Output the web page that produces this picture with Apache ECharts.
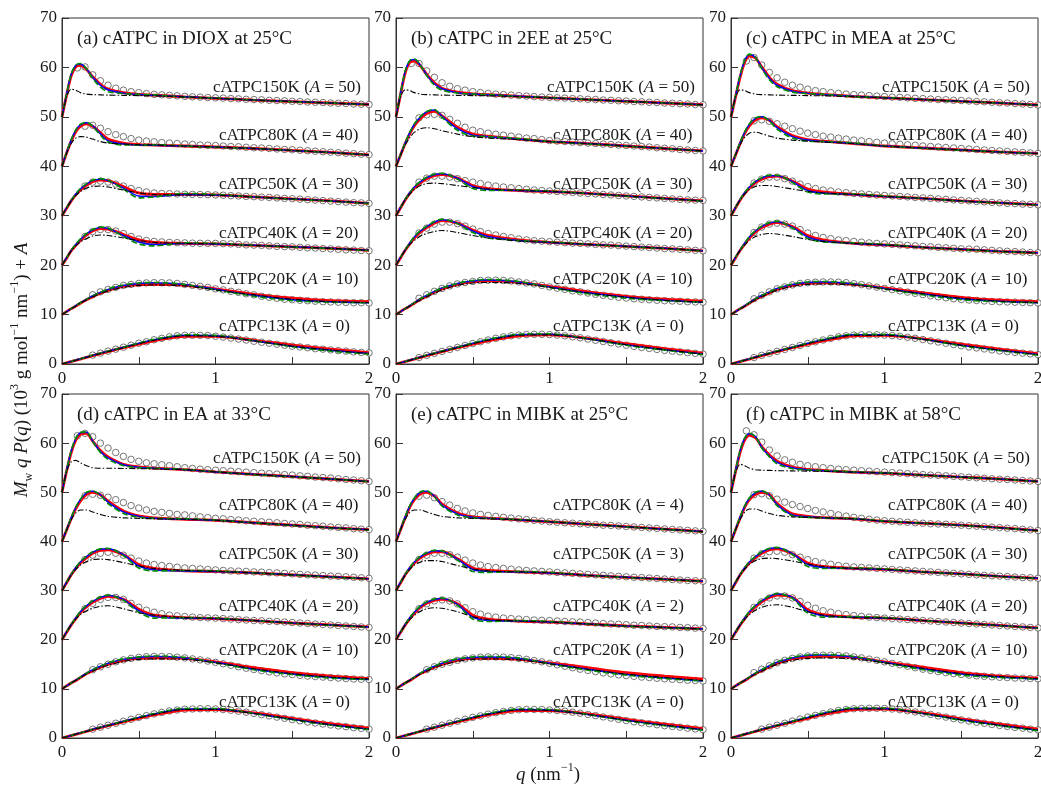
<!DOCTYPE html>
<html>
<head>
<meta charset="utf-8">
<title>cATPC Mw q P(q)</title>
<script src="https://cdn.jsdelivr.net/npm/echarts/dist/echarts.min.js"></script>
<style>
  html, body { margin: 0; padding: 0; background: #fff; }
  #chart { width: 1041px; height: 786px; }
</style>
</head>
<body>
<div id="chart"></div>
<script>
const FONT = '"Liberation Serif", "Times New Roman", serif';
const INK = '#1a1a1a';

// q grids (nm^-1): fitted curves and measured points
const qFit = [0, 0.03, 0.06, 0.09, 0.12, 0.16, 0.2, 0.25, 0.3, 0.4, 0.5, 0.6, 0.8, 1.0, 1.25, 1.5, 1.75, 2.0];
const qData = [0.10, 0.15, 0.20, 0.25, 0.30, 0.35, 0.40, 0.45, 0.50, 0.55, 0.60, 0.65, 0.70, 0.75, 0.80, 0.85, 0.90, 0.95, 1.00,
  1.05, 1.10, 1.15, 1.20, 1.25, 1.30, 1.35, 1.40, 1.45, 1.50, 1.55, 1.60, 1.65, 1.70, 1.75, 1.80, 1.85, 1.90, 1.95, 2.00];

const panelTitles = ['(a) cATPC in DIOX at 25°C', '(b) cATPC in 2EE at 25°C', '(c) cATPC in MEA at 25°C',
  '(d) cATPC in EA at 33°C', '(e) cATPC in MIBK at 25°C', '(f) cATPC in MIBK at 58°C'];
const samples = ['cATPC150K', 'cATPC80K', 'cATPC50K', 'cATPC40K', 'cATPC20K', 'cATPC13K'];
const shifts = [50, 40, 30, 20, 10, 0];
const aText = ['50', '40', '30', '20', '10', '0'];
const aTextE = ['', '4', '3', '2', '1', '0'];

// ---- (a) DIOX 25°C ----
const aData150 = [9.9, 10.1, 8.5, 7.3, 6.4, 5.8, 5.4, 5.1, 4.9, 4.7, 4.55, 4.45, 4.35, 4.25, 4.15, 4.05, 4.0, 3.9, 3.85, 3.8, 3.7, 3.65, 3.55, 3.5, 3.45, 3.35, 3.3, 3.25, 3.15, 3.1, 3.0, 2.95, 2.9, 2.8, 2.75, 2.7, 2.6, 2.55, 2.5];
const aRed150 = [0, 4.4, 8.3, 10.1, 10.4, 9.6, 8.1, 6.6, 5.6, 4.9, 4.55, 4.4, 4.05, 3.75, 3.4, 3.1, 2.8, 2.5];
const aBlue150 = [0, 4.6, 8.6, 10.4, 10.7, 9.7, 8.0, 6.4, 5.5, 4.8, 4.5, 4.35, 4.05, 3.75, 3.4, 3.1, 2.8, 2.5];
const aGreen150 = [0, 4.6, 8.7, 10.5, 10.8, 9.7, 7.8, 6.0, 5.1, 4.7, 4.55, 4.45, 4.0, 3.8, 3.4, 3.05, 2.8, 2.45];
const aBlack150 = [0, 4.0, 5.6, 5.4, 4.9, 4.6, 4.5, 4.45, 4.4, 4.35, 4.3, 4.25, 4.05, 3.75, 3.4, 3.1, 2.8, 2.5];
const aData80 = [null, 8.1, 8.3, 7.7, 7.0, 6.4, 6.0, 5.6, 5.3, 5.1, 4.95, 4.8, 4.7, 4.6, 4.5, 4.4, 4.3, 4.25, 4.2, 4.1, 4.0, 3.95, 3.85, 3.75, 3.7, 3.6, 3.5, 3.4, 3.35, 3.25, 3.15, 3.05, 2.95, 2.85, 2.75, 2.65, 2.55, 2.45, 2.35];
const aRed80 = [0, 2.7, 5.1, 7.0, 8.1, 8.6, 8.1, 6.8, 5.5, 4.7, 4.4, 4.3, 4.1, 3.9, 3.6, 3.2, 2.8, 2.3];
const aBlue80 = [0, 2.8, 5.3, 7.3, 8.4, 8.8, 8.2, 6.6, 5.2, 4.5, 4.3, 4.25, 4.1, 3.9, 3.6, 3.2, 2.8, 2.3];
const aGreen80 = [0, 2.8, 5.4, 7.4, 8.5, 8.9, 8.1, 6.3, 4.9, 4.3, 4.3, 4.35, 4.1, 3.85, 3.6, 3.2, 2.75, 2.3];
const aBlack80 = [0, 2.6, 4.6, 5.7, 6.0, 5.9, 5.5, 5.0, 4.7, 4.5, 4.35, 4.3, 4.1, 3.9, 3.6, 3.2, 2.8, 2.3];
const aData50 = [null, 6.0, 6.8, 7.0, 6.8, 6.4, 6.0, 5.5, 5.1, 4.8, 4.6, 4.5, 4.45, 4.4, 4.35, 4.32, 4.3, 4.25, 4.2, 4.15, 4.05, 4.0, 3.9, 3.85, 3.75, 3.7, 3.6, 3.5, 3.45, 3.35, 3.25, 3.15, 3.05, 2.95, 2.85, 2.75, 2.65, 2.6, 2.5];
const aRed50 = [0, 1.5, 3.0, 4.2, 5.2, 6.2, 6.9, 7.2, 7.1, 5.9, 4.6, 4.3, 4.3, 4.2, 3.8, 3.4, 3.0, 2.5];
const aBlue50 = [0, 1.6, 3.1, 4.4, 5.4, 6.4, 7.1, 7.4, 7.1, 5.6, 4.0, 3.9, 4.3, 4.2, 3.8, 3.4, 3.0, 2.5];
const aGreen50 = [0, 1.6, 3.1, 4.4, 5.5, 6.5, 7.2, 7.5, 7.2, 5.4, 3.6, 3.8, 4.5, 4.3, 3.8, 3.35, 2.95, 2.45];
const aBlack50 = [0, 1.6, 3.0, 4.1, 4.9, 5.6, 5.9, 6.0, 5.8, 5.2, 4.6, 4.3, 4.2, 4.15, 3.8, 3.4, 3.0, 2.5];
const aData40 = [null, 5.8, 6.8, 7.2, 7.2, 6.9, 6.4, 5.8, 5.3, 5.0, 4.8, 4.7, 4.6, 4.55, 4.5, 4.45, 4.42, 4.4, 4.4, 4.35, 4.3, 4.2, 4.1, 4.05, 4.0, 3.9, 3.8, 3.75, 3.7, 3.6, 3.5, 3.45, 3.35, 3.3, 3.2, 3.1, 3.05, 2.95, 2.9];
const aRed40 = [0, 1.4, 2.9, 4.0, 5.0, 6.1, 6.9, 7.4, 7.3, 6.2, 5.1, 4.6, 4.4, 4.3, 4.0, 3.7, 3.4, 3.0];
const aBlue40 = [0, 1.5, 3.0, 4.2, 5.2, 6.3, 7.1, 7.6, 7.4, 6.0, 4.7, 4.2, 4.4, 4.3, 4.0, 3.7, 3.4, 3.0];
const aGreen40 = [0, 1.5, 3.0, 4.3, 5.3, 6.4, 7.2, 7.7, 7.5, 5.8, 4.3, 3.9, 4.5, 4.4, 4.0, 3.65, 3.35, 2.95];
const aBlack40 = [0, 1.5, 2.9, 3.9, 4.7, 5.4, 5.9, 6.1, 6.0, 5.5, 5.0, 4.6, 4.4, 4.3, 4.0, 3.7, 3.4, 3.0];
const aData20 = [null, null, 4.0, 4.6, 5.1, 5.5, 5.9, 6.1, 6.3, 6.4, 6.45, 6.45, 6.4, 6.3, 6.1, 5.9, 5.7, 5.5, 5.2, 5.0, 4.7, 4.5, 4.2, 4.0, 3.7, 3.5, 3.3, 3.1, 3.0, 2.9, 2.8, 2.7, 2.6, 2.55, 2.5, 2.45, 2.4, 2.4, 2.35];
const aRed20 = [0, 0.6, 1.2, 1.7, 2.3, 3.0, 3.6, 4.3, 4.9, 5.7, 6.0, 6.1, 5.9, 5.2, 4.1, 3.3, 2.8, 2.6];
const aBlue20 = [0, 0.6, 1.2, 1.8, 2.4, 3.1, 3.8, 4.5, 5.1, 5.9, 6.3, 6.45, 6.1, 5.1, 3.9, 3.0, 2.6, 2.4];
const aGreen20 = [0, 0.6, 1.2, 1.8, 2.4, 3.1, 3.8, 4.5, 5.2, 6.0, 6.4, 6.5, 6.1, 5.0, 3.7, 2.8, 2.5, 2.4];
const aBlack20 = [0, 0.6, 1.2, 1.7, 2.3, 3.0, 3.6, 4.2, 4.8, 5.5, 5.9, 6.0, 5.8, 5.0, 4.0, 3.1, 2.6, 2.4];
const aData13 = [null, null, 1.8, 2.2, 2.6, 3.0, 3.4, 3.8, 4.2, 4.5, 4.9, 5.2, 5.5, 5.7, 5.8, 5.8, 5.8, 5.75, 5.6, 5.45, 5.25, 5.05, 4.85, 4.6, 4.4, 4.2, 4.0, 3.8, 3.6, 3.45, 3.3, 3.1, 3.0, 2.85, 2.7, 2.6, 2.45, 2.35, 2.25];
const aRed13 = [0, 0.25, 0.5, 0.75, 1.0, 1.35, 1.7, 2.1, 2.5, 3.3, 4.0, 4.7, 5.6, 5.6, 4.8, 3.8, 3.0, 2.3];
const aBlue13 = [0, 0.25, 0.5, 0.8, 1.05, 1.4, 1.75, 2.2, 2.6, 3.4, 4.2, 4.9, 5.8, 5.7, 4.7, 3.6, 2.8, 2.1];
const aGreen13 = [0, 0.25, 0.5, 0.8, 1.05, 1.4, 1.8, 2.2, 2.6, 3.4, 4.2, 5.0, 5.9, 5.8, 4.7, 3.5, 2.6, 2.0];
const aBlack13 = [0, 0.25, 0.5, 0.75, 1.0, 1.35, 1.7, 2.1, 2.5, 3.3, 4.1, 4.8, 5.7, 5.6, 4.7, 3.6, 2.8, 2.1];

// ---- (b) 2EE 25°C ----
const bData150 = [10.8, 10.8, 9.3, 8.0, 6.9, 6.2, 5.7, 5.4, 5.1, 4.9, 4.75, 4.6, 4.5, 4.4, 4.3, 4.2, 4.1, 4.0, 3.95, 3.85, 3.8, 3.7, 3.65, 3.55, 3.5, 3.4, 3.35, 3.25, 3.2, 3.1, 3.05, 2.95, 2.9, 2.8, 2.75, 2.65, 2.6, 2.5, 2.45];
const bRed150 = [0, 4.6, 8.9, 11.0, 11.3, 10.3, 8.6, 6.9, 5.8, 5.0, 4.65, 4.5, 4.15, 3.85, 3.5, 3.15, 2.8, 2.45];
const bBlue150 = [0, 4.8, 9.2, 11.3, 11.6, 10.4, 8.5, 6.7, 5.7, 4.9, 4.6, 4.45, 4.15, 3.85, 3.5, 3.15, 2.8, 2.45];
const bGreen150 = [0, 4.8, 9.3, 11.4, 11.7, 10.4, 8.3, 6.4, 5.4, 4.8, 4.6, 4.5, 4.1, 3.9, 3.5, 3.1, 2.8, 2.4];
const bBlack150 = [0, 4.0, 5.5, 5.3, 4.9, 4.6, 4.5, 4.45, 4.4, 4.35, 4.3, 4.25, 4.1, 3.85, 3.5, 3.15, 2.8, 2.45];
const bData80 = [null, 9.8, 10.4, 10.5, 10.3, 9.5, 8.7, 7.9, 7.3, 7.0, 6.7, 6.5, 6.3, 6.1, 5.9, 5.7, 5.6, 5.4, 5.2, 5.1, 5.0, 4.9, 4.8, 4.7, 4.6, 4.5, 4.4, 4.3, 4.2, 4.1, 4.0, 3.9, 3.75, 3.65, 3.55, 3.4, 3.3, 3.2, 3.1];
const bRed80 = [0, 2.3, 4.6, 6.6, 8.2, 9.7, 10.7, 11.1, 10.2, 7.9, 6.5, 6.1, 5.5, 5.0, 4.6, 4.1, 3.6, 3.1];
const bBlue80 = [0, 2.4, 4.7, 6.8, 8.5, 10.0, 11.0, 11.4, 10.1, 7.6, 6.3, 6.0, 5.5, 5.0, 4.6, 4.1, 3.6, 3.1];
const bGreen80 = [0, 2.4, 4.8, 6.9, 8.6, 10.1, 11.1, 11.5, 9.9, 7.3, 6.1, 6.0, 5.6, 5.0, 4.5, 4.05, 3.6, 3.05];
const bBlack80 = [0, 2.3, 4.3, 5.8, 6.9, 7.6, 7.8, 7.6, 7.2, 6.5, 6.0, 5.7, 5.4, 5.0, 4.6, 4.1, 3.6, 3.1];
const bData50 = [null, 6.8, 7.6, 8.0, 8.0, 7.8, 7.5, 7.1, 6.8, 6.5, 6.2, 6.0, 5.8, 5.65, 5.5, 5.35, 5.2, 5.1, 5.0, 4.9, 4.8, 4.7, 4.6, 4.5, 4.4, 4.3, 4.2, 4.1, 4.0, 3.9, 3.8, 3.7, 3.6, 3.5, 3.4, 3.3, 3.2, 3.15, 3.1];
const bRed50 = [0, 1.6, 3.2, 4.5, 5.6, 6.7, 7.5, 8.1, 8.3, 7.6, 6.1, 5.5, 5.1, 4.9, 4.5, 4.0, 3.5, 3.0];
const bBlue50 = [0, 1.7, 3.3, 4.7, 5.8, 6.9, 7.7, 8.3, 8.5, 7.6, 5.9, 5.3, 5.1, 4.9, 4.5, 4.0, 3.5, 3.0];
const bGreen50 = [0, 1.7, 3.3, 4.7, 5.9, 7.0, 7.8, 8.4, 8.6, 7.4, 5.5, 5.1, 5.2, 5.0, 4.5, 3.95, 3.45, 2.95];
const bBlack50 = [0, 1.7, 3.2, 4.4, 5.3, 6.1, 6.5, 6.6, 6.5, 6.1, 5.7, 5.4, 5.1, 4.9, 4.5, 4.0, 3.5, 3.0];
const bData40 = [null, 6.5, 7.5, 8.3, 8.7, 8.7, 8.4, 7.9, 7.3, 6.8, 6.4, 6.1, 5.8, 5.55, 5.3, 5.1, 4.95, 4.85, 4.75, 4.65, 4.55, 4.45, 4.4, 4.3, 4.2, 4.1, 4.05, 3.95, 3.85, 3.75, 3.65, 3.55, 3.45, 3.35, 3.3, 3.2, 3.1, 3.0, 2.9];
const bRed40 = [0, 1.5, 3.0, 4.3, 5.5, 6.7, 7.6, 8.5, 9.0, 8.5, 7.1, 6.0, 5.1, 4.6, 4.2, 3.8, 3.4, 2.9];
const bBlue40 = [0, 1.6, 3.1, 4.5, 5.7, 6.9, 7.8, 8.7, 9.2, 8.5, 6.9, 5.8, 5.0, 4.6, 4.2, 3.8, 3.4, 2.9];
const bGreen40 = [0, 1.6, 3.1, 4.5, 5.8, 7.0, 7.9, 8.8, 9.3, 8.4, 6.6, 5.5, 5.0, 4.7, 4.2, 3.75, 3.35, 2.85];
const bBlack40 = [0, 1.6, 3.0, 4.2, 5.0, 5.9, 6.4, 6.8, 7.0, 6.6, 6.0, 5.5, 4.9, 4.6, 4.2, 3.8, 3.4, 2.9];
const bData20 = [null, 3.3, 4.0, 4.7, 5.3, 5.8, 6.2, 6.5, 6.7, 6.9, 6.95, 6.95, 6.9, 6.8, 6.6, 6.4, 6.2, 5.9, 5.6, 5.35, 5.1, 4.8, 4.6, 4.35, 4.1, 3.9, 3.7, 3.5, 3.35, 3.2, 3.1, 3.0, 2.9, 2.8, 2.75, 2.7, 2.6, 2.55, 2.5];
const bRed20 = [0, 0.6, 1.2, 1.7, 2.3, 3.1, 3.7, 4.5, 5.2, 6.1, 6.6, 6.8, 6.5, 5.7, 4.6, 3.7, 3.1, 2.7];
const bBlue20 = [0, 0.6, 1.2, 1.8, 2.4, 3.2, 3.9, 4.7, 5.4, 6.3, 6.8, 7.0, 6.6, 5.6, 4.4, 3.5, 2.9, 2.5];
const bGreen20 = [0, 0.6, 1.2, 1.8, 2.4, 3.2, 3.9, 4.7, 5.4, 6.3, 6.9, 7.1, 6.7, 5.5, 4.2, 3.3, 2.8, 2.5];
const bBlack20 = [0, 0.6, 1.2, 1.7, 2.3, 3.0, 3.6, 4.3, 5.0, 5.9, 6.4, 6.5, 6.3, 5.5, 4.4, 3.5, 2.9, 2.5];
const bData13 = [null, 1.3, 1.75, 2.15, 2.55, 2.95, 3.35, 3.75, 4.15, 4.5, 4.85, 5.2, 5.5, 5.7, 5.85, 5.95, 6.0, 6.0, 5.95, 5.85, 5.7, 5.5, 5.3, 5.05, 4.8, 4.55, 4.3, 4.05, 3.8, 3.55, 3.35, 3.15, 2.95, 2.75, 2.6, 2.45, 2.3, 2.15, 2.0];
const bRed13 = [0, 0.25, 0.5, 0.75, 1.0, 1.35, 1.7, 2.1, 2.5, 3.3, 4.0, 4.7, 5.7, 5.9, 5.2, 4.1, 3.1, 2.2];
const bBlue13 = [0, 0.25, 0.5, 0.8, 1.05, 1.4, 1.8, 2.2, 2.6, 3.4, 4.2, 4.9, 5.9, 6.0, 5.1, 3.9, 2.9, 2.0];
const bGreen13 = [0, 0.25, 0.5, 0.8, 1.05, 1.4, 1.8, 2.2, 2.6, 3.4, 4.2, 5.0, 6.0, 6.1, 5.1, 3.8, 2.8, 1.9];
const bBlack13 = [0, 0.25, 0.5, 0.75, 1.0, 1.35, 1.7, 2.1, 2.5, 3.3, 4.1, 4.8, 5.8, 5.9, 5.1, 3.9, 2.9, 2.0];

// ---- (c) MEA 25°C ----
const cData150 = [11.3, 12.0, 10.5, 9.0, 7.9, 7.0, 6.4, 6.0, 5.6, 5.3, 5.1, 4.9, 4.75, 4.6, 4.5, 4.4, 4.3, 4.2, 4.1, 4.0, 3.95, 3.85, 3.75, 3.7, 3.6, 3.5, 3.45, 3.35, 3.3, 3.2, 3.1, 3.05, 2.95, 2.85, 2.8, 2.7, 2.6, 2.5, 2.4];
const cRed150 = [0, 4.1, 8.1, 11.1, 12.3, 11.9, 10.1, 8.0, 6.6, 5.3, 4.8, 4.55, 4.15, 3.85, 3.5, 3.15, 2.8, 2.4];
const cBlue150 = [0, 4.3, 8.4, 11.4, 12.6, 12.0, 10.0, 7.8, 6.4, 5.2, 4.75, 4.5, 4.15, 3.85, 3.5, 3.15, 2.8, 2.4];
const cGreen150 = [0, 4.3, 8.5, 11.5, 12.7, 12.0, 9.8, 7.5, 6.1, 5.0, 4.7, 4.55, 4.1, 3.9, 3.5, 3.1, 2.8, 2.35];
const cBlack150 = [0, 4.0, 5.5, 5.3, 4.9, 4.6, 4.5, 4.45, 4.4, 4.35, 4.3, 4.25, 4.1, 3.85, 3.5, 3.15, 2.8, 2.4];
const cData80 = [null, 9.2, 9.4, 9.1, 8.6, 8.1, 7.6, 7.1, 6.7, 6.4, 6.1, 5.9, 5.7, 5.5, 5.3, 5.15, 5.0, 4.85, 4.7, 4.55, 4.45, 4.35, 4.25, 4.1, 4.0, 3.9, 3.8, 3.7, 3.6, 3.5, 3.4, 3.3, 3.2, 3.1, 3.0, 2.9, 2.8, 2.7, 2.6];
const cRed80 = [0, 2.3, 4.6, 6.7, 8.2, 9.4, 9.8, 9.3, 8.0, 6.2, 5.4, 5.1, 4.6, 4.1, 3.7, 3.3, 2.9, 2.6];
const cBlue80 = [0, 2.4, 4.8, 6.9, 8.5, 9.7, 10.0, 9.3, 7.8, 6.0, 5.3, 5.0, 4.6, 4.1, 3.7, 3.3, 2.9, 2.6];
const cGreen80 = [0, 2.4, 4.9, 7.0, 8.6, 9.8, 10.1, 9.2, 7.5, 5.7, 5.1, 5.0, 4.7, 4.1, 3.65, 3.25, 2.9, 2.55];
const cBlack80 = [0, 2.3, 4.4, 5.9, 6.7, 6.9, 6.6, 6.1, 5.7, 5.3, 5.1, 4.9, 4.6, 4.1, 3.7, 3.3, 2.9, 2.6];
const cData50 = [null, 6.6, 7.4, 7.8, 7.8, 7.5, 7.0, 6.4, 5.9, 5.5, 5.2, 5.0, 4.8, 4.65, 4.5, 4.4, 4.3, 4.2, 4.1, 4.0, 3.9, 3.8, 3.7, 3.6, 3.5, 3.4, 3.3, 3.2, 3.1, 3.0, 2.9, 2.8, 2.7, 2.6, 2.5, 2.45, 2.35, 2.3, 2.2];
const cRed50 = [0, 1.6, 3.2, 4.5, 5.6, 6.7, 7.4, 7.9, 8.0, 7.0, 5.4, 4.8, 4.3, 3.9, 3.5, 3.0, 2.6, 2.2];
const cBlue50 = [0, 1.7, 3.3, 4.7, 5.8, 6.9, 7.6, 8.1, 8.1, 6.9, 5.1, 4.6, 4.3, 3.9, 3.5, 3.0, 2.6, 2.2];
const cGreen50 = [0, 1.7, 3.3, 4.7, 5.9, 7.0, 7.7, 8.2, 8.2, 6.7, 4.8, 4.4, 4.4, 4.0, 3.5, 2.95, 2.55, 2.15];
const cBlack50 = [0, 1.7, 3.2, 4.4, 5.3, 5.9, 6.1, 6.1, 5.9, 5.4, 4.9, 4.6, 4.3, 3.9, 3.5, 3.0, 2.6, 2.2];
const cData40 = [null, 6.6, 7.7, 8.3, 8.5, 8.3, 7.9, 7.2, 6.5, 6.0, 5.6, 5.35, 5.1, 4.95, 4.8, 4.65, 4.5, 4.4, 4.3, 4.2, 4.1, 4.0, 3.9, 3.8, 3.7, 3.6, 3.5, 3.4, 3.3, 3.25, 3.2, 3.1, 3.0, 2.9, 2.8, 2.75, 2.65, 2.55, 2.5];
const cRed40 = [0, 1.5, 3.0, 4.3, 5.5, 6.7, 7.6, 8.3, 8.6, 7.8, 6.0, 5.1, 4.4, 4.1, 3.6, 3.2, 2.8, 2.5];
const cBlue40 = [0, 1.6, 3.1, 4.5, 5.7, 6.9, 7.8, 8.5, 8.8, 7.7, 5.7, 4.9, 4.4, 4.1, 3.6, 3.2, 2.8, 2.5];
const cGreen40 = [0, 1.6, 3.1, 4.5, 5.8, 7.0, 7.9, 8.6, 8.9, 7.5, 5.4, 4.7, 4.5, 4.2, 3.6, 3.15, 2.75, 2.45];
const cBlack40 = [0, 1.6, 3.0, 4.1, 5.0, 5.8, 6.2, 6.4, 6.3, 5.8, 5.2, 4.8, 4.4, 4.1, 3.6, 3.2, 2.8, 2.5];
const cData20 = [null, 3.2, 3.9, 4.6, 5.2, 5.6, 6.0, 6.3, 6.45, 6.55, 6.6, 6.6, 6.55, 6.45, 6.25, 6.05, 5.8, 5.55, 5.3, 5.05, 4.8, 4.55, 4.3, 4.05, 3.8, 3.6, 3.4, 3.2, 3.05, 2.95, 2.85, 2.75, 2.65, 2.6, 2.55, 2.5, 2.45, 2.4, 2.35];
const cRed20 = [0, 0.6, 1.2, 1.7, 2.3, 3.1, 3.7, 4.4, 5.1, 5.9, 6.3, 6.4, 6.1, 5.4, 4.4, 3.5, 2.9, 2.6];
const cBlue20 = [0, 0.6, 1.2, 1.8, 2.4, 3.2, 3.9, 4.6, 5.3, 6.1, 6.5, 6.6, 6.2, 5.3, 4.2, 3.2, 2.7, 2.4];
const cGreen20 = [0, 0.6, 1.2, 1.8, 2.4, 3.2, 3.9, 4.6, 5.3, 6.2, 6.6, 6.7, 6.3, 5.2, 4.0, 3.0, 2.6, 2.4];
const cBlack20 = [0, 0.6, 1.2, 1.7, 2.3, 3.0, 3.6, 4.3, 4.9, 5.7, 6.1, 6.2, 6.0, 5.2, 4.2, 3.3, 2.7, 2.4];
const cData13 = [null, 1.3, 1.75, 2.15, 2.55, 2.95, 3.35, 3.75, 4.15, 4.5, 4.85, 5.2, 5.5, 5.7, 5.85, 5.9, 5.9, 5.9, 5.85, 5.75, 5.6, 5.4, 5.2, 4.95, 4.7, 4.45, 4.2, 3.95, 3.7, 3.45, 3.25, 3.05, 2.85, 2.65, 2.5, 2.35, 2.2, 2.05, 1.9];
const cRed13 = [0, 0.25, 0.5, 0.75, 1.0, 1.35, 1.7, 2.1, 2.5, 3.3, 4.0, 4.7, 5.7, 5.8, 5.1, 4.0, 3.0, 2.1];
const cBlue13 = [0, 0.25, 0.5, 0.8, 1.05, 1.4, 1.8, 2.2, 2.6, 3.4, 4.2, 4.9, 5.9, 5.9, 5.0, 3.8, 2.8, 1.9];
const cGreen13 = [0, 0.25, 0.5, 0.8, 1.05, 1.4, 1.8, 2.2, 2.6, 3.4, 4.2, 5.0, 6.0, 6.0, 5.0, 3.7, 2.7, 1.8];
const cBlack13 = [0, 0.25, 0.5, 0.75, 1.0, 1.35, 1.7, 2.1, 2.5, 3.3, 4.1, 4.8, 5.8, 5.8, 5.0, 3.8, 2.8, 1.9];

// ---- (d) EA 33°C ----
const dData150 = [11.5, 12.0, 11.3, 10.0, 9.0, 8.1, 7.3, 6.7, 6.3, 6.0, 5.8, 5.6, 5.4, 5.2, 5.0, 4.85, 4.7, 4.6, 4.5, 4.4, 4.3, 4.2, 4.1, 4.0, 3.9, 3.8, 3.7, 3.6, 3.5, 3.35, 3.25, 3.1, 3.0, 2.9, 2.75, 2.6, 2.5, 2.35, 2.2];
const dRed150 = [0, 4.3, 8.1, 10.6, 11.8, 12.0, 10.4, 8.5, 7.2, 5.7, 5.15, 4.9, 4.6, 4.15, 3.65, 3.2, 2.7, 2.2];
const dBlue150 = [0, 4.5, 8.4, 10.9, 12.1, 12.2, 10.4, 8.3, 7.0, 5.6, 5.1, 4.9, 4.6, 4.15, 3.65, 3.2, 2.7, 2.2];
const dGreen150 = [0, 4.5, 8.5, 11.0, 12.2, 12.3, 10.3, 8.1, 6.7, 5.4, 5.0, 4.9, 4.65, 4.2, 3.6, 3.15, 2.7, 2.15];
const dBlack150 = [0, 4.2, 6.2, 6.5, 6.0, 5.4, 5.0, 4.9, 4.9, 4.85, 4.8, 4.75, 4.6, 4.15, 3.65, 3.2, 2.7, 2.2];
const dData80 = [null, 9.3, 9.6, 9.4, 9.0, 8.5, 7.9, 7.3, 6.8, 6.4, 6.1, 5.9, 5.7, 5.5, 5.4, 5.2, 5.0, 4.85, 4.7, 4.6, 4.45, 4.35, 4.2, 4.1, 4.0, 3.9, 3.8, 3.65, 3.55, 3.45, 3.3, 3.2, 3.1, 2.95, 2.85, 2.75, 2.6, 2.5, 2.4];
const dRed80 = [0, 2.3, 4.6, 6.7, 8.2, 9.6, 10.0, 9.5, 8.2, 6.2, 5.2, 4.8, 4.5, 4.3, 3.8, 3.3, 2.8, 2.4];
const dBlue80 = [0, 2.4, 4.8, 6.9, 8.5, 9.9, 10.2, 9.5, 8.0, 6.0, 5.1, 4.7, 4.5, 4.3, 3.8, 3.3, 2.8, 2.4];
const dGreen80 = [0, 2.4, 4.9, 7.0, 8.6, 10.0, 10.3, 9.4, 7.7, 5.7, 4.9, 4.7, 4.6, 4.35, 3.8, 3.25, 2.75, 2.35];
const dBlack80 = [0, 2.3, 4.4, 5.8, 6.4, 6.4, 6.0, 5.5, 5.1, 4.8, 4.7, 4.6, 4.5, 4.3, 3.8, 3.3, 2.8, 2.4];
const dData50 = [null, 6.3, 7.2, 7.6, 7.8, 7.6, 7.2, 6.6, 6.0, 5.6, 5.3, 5.1, 4.9, 4.75, 4.6, 4.5, 4.4, 4.3, 4.2, 4.1, 4.0, 3.95, 3.9, 3.8, 3.75, 3.65, 3.6, 3.5, 3.4, 3.3, 3.2, 3.15, 3.05, 2.95, 2.9, 2.8, 2.7, 2.6, 2.5];
const dRed50 = [0, 1.6, 3.2, 4.5, 5.6, 6.7, 7.6, 8.2, 8.3, 7.3, 5.3, 4.5, 4.0, 3.9, 3.6, 3.2, 2.8, 2.4];
const dBlue50 = [0, 1.7, 3.3, 4.7, 5.8, 6.9, 7.8, 8.4, 8.5, 7.3, 5.0, 4.2, 4.0, 3.9, 3.6, 3.2, 2.8, 2.4];
const dGreen50 = [0, 1.7, 3.3, 4.7, 5.9, 7.0, 7.9, 8.5, 8.6, 7.1, 4.6, 4.0, 4.1, 4.0, 3.6, 3.15, 2.75, 2.35];
const dBlack50 = [0, 1.6, 3.1, 4.3, 5.2, 5.9, 6.3, 6.4, 6.3, 5.7, 5.0, 4.5, 4.1, 3.9, 3.6, 3.2, 2.8, 2.4];
const dData40 = [null, 6.3, 7.4, 8.2, 8.6, 8.6, 8.2, 7.4, 6.6, 6.0, 5.6, 5.3, 5.0, 4.85, 4.7, 4.6, 4.5, 4.45, 4.4, 4.3, 4.2, 4.1, 4.0, 3.9, 3.85, 3.75, 3.7, 3.6, 3.5, 3.4, 3.3, 3.2, 3.1, 3.0, 2.9, 2.8, 2.7, 2.6, 2.5];
const dRed40 = [0, 1.5, 3.0, 4.3, 5.5, 6.7, 7.6, 8.4, 8.8, 8.2, 6.2, 5.0, 4.5, 4.3, 3.9, 3.4, 3.0, 2.6];
const dBlue40 = [0, 1.6, 3.1, 4.5, 5.7, 6.9, 7.8, 8.6, 9.0, 8.2, 5.9, 4.7, 4.4, 4.3, 3.9, 3.4, 3.0, 2.6];
const dGreen40 = [0, 1.6, 3.1, 4.5, 5.8, 7.0, 7.9, 8.7, 9.1, 8.0, 5.6, 4.4, 4.5, 4.4, 3.9, 3.35, 2.95, 2.55];
const dBlack40 = [0, 1.6, 3.0, 4.2, 5.1, 5.9, 6.4, 6.8, 6.9, 6.3, 5.5, 5.0, 4.5, 4.3, 3.9, 3.4, 3.0, 2.6];
const dData20 = [null, null, 3.9, 4.5, 5.0, 5.5, 5.9, 6.2, 6.4, 6.55, 6.6, 6.6, 6.55, 6.45, 6.3, 6.1, 5.9, 5.65, 5.4, 5.1, 4.8, 4.5, 4.2, 3.95, 3.7, 3.45, 3.25, 3.05, 2.9, 2.75, 2.6, 2.5, 2.4, 2.3, 2.2, 2.1, 2.0, 1.95, 1.9];
const dRed20 = [0, 0.6, 1.2, 1.7, 2.3, 3.1, 3.7, 4.4, 5.0, 5.8, 6.2, 6.3, 6.2, 5.5, 4.3, 3.3, 2.6, 2.1];
const dBlue20 = [0, 0.6, 1.2, 1.8, 2.4, 3.2, 3.9, 4.6, 5.2, 6.0, 6.4, 6.6, 6.3, 5.4, 4.0, 3.0, 2.3, 1.9];
const dGreen20 = [0, 0.6, 1.2, 1.8, 2.4, 3.2, 3.9, 4.6, 5.3, 6.1, 6.5, 6.7, 6.4, 5.3, 3.9, 2.9, 2.2, 1.9];
const dBlack20 = [0, 0.6, 1.2, 1.7, 2.3, 3.0, 3.6, 4.3, 4.8, 5.6, 6.0, 6.1, 6.0, 5.3, 4.1, 3.1, 2.4, 2.0];
const dData13 = [null, null, 1.8, 2.2, 2.6, 3.0, 3.4, 3.8, 4.2, 4.55, 4.9, 5.2, 5.5, 5.7, 5.85, 5.9, 5.95, 5.95, 5.9, 5.8, 5.65, 5.45, 5.25, 5.0, 4.75, 4.5, 4.25, 4.0, 3.75, 3.5, 3.25, 3.05, 2.85, 2.65, 2.45, 2.3, 2.1, 1.95, 1.8];
const dRed13 = [0, 0.25, 0.5, 0.75, 1.0, 1.35, 1.7, 2.1, 2.5, 3.3, 4.0, 4.7, 5.7, 5.8, 5.1, 4.0, 2.9, 2.0];
const dBlue13 = [0, 0.25, 0.5, 0.8, 1.05, 1.4, 1.8, 2.2, 2.6, 3.4, 4.2, 4.9, 5.9, 5.9, 5.0, 3.8, 2.7, 1.8];
const dGreen13 = [0, 0.25, 0.5, 0.8, 1.05, 1.4, 1.8, 2.2, 2.6, 3.4, 4.2, 5.0, 6.0, 6.0, 5.0, 3.7, 2.6, 1.7];
const dBlack13 = [0, 0.25, 0.5, 0.75, 1.0, 1.35, 1.7, 2.1, 2.5, 3.3, 4.1, 4.8, 5.8, 5.8, 5.0, 3.8, 2.7, 1.8];

// ---- (e) MIBK 25°C (no 150K) ----
const eData80 = [null, 9.2, 9.4, 8.9, 8.1, 7.4, 6.7, 6.2, 5.8, 5.5, 5.3, 5.1, 4.9, 4.75, 4.6, 4.45, 4.3, 4.15, 4.0, 3.9, 3.8, 3.7, 3.6, 3.5, 3.4, 3.3, 3.25, 3.15, 3.05, 2.95, 2.85, 2.75, 2.65, 2.55, 2.45, 2.35, 2.25, 2.15, 2.05];
const eRed80 = [0, 2.4, 4.8, 7.0, 8.5, 9.7, 10.0, 9.2, 7.6, 5.8, 5.0, 4.75, 4.4, 4.0, 3.5, 3.0, 2.5, 2.0];
const eBlue80 = [0, 2.5, 5.0, 7.2, 8.8, 10.0, 10.2, 9.2, 7.4, 5.6, 4.9, 4.7, 4.4, 4.0, 3.5, 3.0, 2.5, 2.0];
const eGreen80 = [0, 2.5, 5.1, 7.3, 8.9, 10.1, 10.3, 9.1, 7.2, 5.4, 4.8, 4.7, 4.45, 4.05, 3.5, 2.95, 2.45, 1.95];
const eBlack80 = [0, 2.4, 4.5, 5.9, 6.4, 6.4, 6.0, 5.5, 5.1, 4.8, 4.7, 4.6, 4.4, 4.0, 3.5, 3.0, 2.5, 2.0];
const eData50 = [null, 6.3, 7.2, 7.6, 7.6, 7.3, 6.8, 6.2, 5.6, 5.2, 4.9, 4.7, 4.5, 4.35, 4.2, 4.1, 4.0, 3.9, 3.8, 3.7, 3.6, 3.5, 3.4, 3.3, 3.2, 3.1, 3.0, 2.9, 2.8, 2.7, 2.65, 2.55, 2.45, 2.35, 2.25, 2.15, 2.05, 2.0, 1.9];
const eRed50 = [0, 1.6, 3.2, 4.5, 5.6, 6.7, 7.4, 7.9, 7.9, 6.5, 4.6, 4.1, 3.8, 3.6, 3.1, 2.7, 2.3, 1.9];
const eBlue50 = [0, 1.7, 3.3, 4.7, 5.8, 6.9, 7.6, 8.1, 8.0, 6.4, 4.3, 3.9, 3.8, 3.6, 3.1, 2.7, 2.3, 1.9];
const eGreen50 = [0, 1.7, 3.3, 4.7, 5.9, 7.0, 7.7, 8.2, 8.1, 6.2, 3.9, 3.7, 3.9, 3.7, 3.1, 2.65, 2.25, 1.85];
const eBlack50 = [0, 1.6, 3.1, 4.3, 5.2, 5.8, 6.1, 6.1, 5.9, 5.1, 4.4, 4.0, 3.8, 3.6, 3.1, 2.7, 2.3, 1.9];
const eData40 = [null, 6.3, 7.3, 7.9, 8.1, 7.9, 7.3, 6.5, 5.7, 5.2, 4.8, 4.6, 4.4, 4.3, 4.2, 4.1, 4.0, 3.95, 3.9, 3.8, 3.7, 3.65, 3.6, 3.5, 3.4, 3.3, 3.2, 3.15, 3.05, 2.95, 2.9, 2.8, 2.7, 2.65, 2.6, 2.5, 2.45, 2.35, 2.3];
const eRed40 = [0, 1.5, 3.0, 4.3, 5.4, 6.6, 7.4, 8.0, 8.2, 7.3, 5.0, 4.2, 3.8, 3.6, 3.2, 2.8, 2.5, 2.2];
const eBlue40 = [0, 1.6, 3.1, 4.5, 5.6, 6.8, 7.6, 8.2, 8.4, 7.2, 4.6, 3.9, 3.8, 3.6, 3.2, 2.8, 2.5, 2.2];
const eGreen40 = [0, 1.6, 3.1, 4.5, 5.7, 6.9, 7.7, 8.3, 8.5, 7.0, 4.2, 3.7, 3.9, 3.7, 3.2, 2.75, 2.45, 2.15];
const eBlack40 = [0, 1.6, 3.0, 4.1, 5.0, 5.8, 6.3, 6.5, 6.4, 5.7, 4.7, 4.1, 3.8, 3.6, 3.2, 2.8, 2.5, 2.2];
const eData20 = [null, null, 3.9, 4.5, 5.0, 5.4, 5.8, 6.1, 6.3, 6.45, 6.5, 6.5, 6.45, 6.35, 6.2, 6.0, 5.75, 5.5, 5.2, 4.9, 4.6, 4.3, 4.0, 3.75, 3.5, 3.25, 3.05, 2.85, 2.7, 2.55, 2.4, 2.3, 2.15, 2.05, 1.95, 1.85, 1.75, 1.7, 1.6];
const eRed20 = [0, 0.6, 1.2, 1.7, 2.3, 3.1, 3.7, 4.4, 5.0, 5.8, 6.2, 6.2, 6.0, 5.3, 4.3, 3.3, 2.6, 2.0];
const eBlue20 = [0, 0.6, 1.2, 1.8, 2.4, 3.2, 3.9, 4.6, 5.2, 6.0, 6.4, 6.5, 6.2, 5.2, 4.0, 2.9, 2.2, 1.6];
const eGreen20 = [0, 0.6, 1.2, 1.8, 2.4, 3.2, 3.9, 4.6, 5.3, 6.1, 6.5, 6.6, 6.3, 5.1, 3.8, 2.8, 2.1, 1.6];
const eBlack20 = [0, 0.6, 1.2, 1.7, 2.3, 3.0, 3.6, 4.3, 4.8, 5.6, 6.0, 6.1, 5.9, 5.1, 4.0, 3.0, 2.3, 1.7];
const eData13 = [null, null, 1.8, 2.2, 2.6, 3.0, 3.4, 3.8, 4.2, 4.5, 4.85, 5.15, 5.4, 5.6, 5.75, 5.8, 5.8, 5.8, 5.7, 5.6, 5.45, 5.25, 5.05, 4.8, 4.55, 4.3, 4.05, 3.8, 3.55, 3.3, 3.1, 2.9, 2.7, 2.5, 2.35, 2.2, 2.0, 1.85, 1.7];
const eRed13 = [0, 0.25, 0.5, 0.75, 1.0, 1.35, 1.7, 2.1, 2.5, 3.3, 4.0, 4.7, 5.6, 5.6, 4.9, 3.8, 2.8, 1.9];
const eBlue13 = [0, 0.25, 0.5, 0.8, 1.05, 1.4, 1.8, 2.2, 2.6, 3.4, 4.2, 4.9, 5.8, 5.7, 4.8, 3.6, 2.6, 1.7];
const eGreen13 = [0, 0.25, 0.5, 0.8, 1.05, 1.4, 1.8, 2.2, 2.6, 3.4, 4.2, 5.0, 5.9, 5.8, 4.8, 3.5, 2.5, 1.6];
const eBlack13 = [0, 0.25, 0.5, 0.75, 1.0, 1.35, 1.7, 2.1, 2.5, 3.3, 4.1, 4.8, 5.7, 5.6, 4.8, 3.6, 2.6, 1.7];

// ---- (f) MIBK 58°C ----
const fData150 = [12.5, 11.7, 10.2, 8.6, 7.4, 6.6, 6.1, 5.7, 5.4, 5.2, 5.0, 4.85, 4.7, 4.6, 4.5, 4.4, 4.3, 4.2, 4.1, 4.0, 3.9, 3.8, 3.7, 3.6, 3.5, 3.45, 3.35, 3.25, 3.15, 3.05, 2.95, 2.85, 2.75, 2.65, 2.6, 2.5, 2.4, 2.3, 2.2];
const fRed150 = [0, 4.3, 8.2, 10.7, 11.6, 11.1, 9.3, 7.6, 6.3, 5.1, 4.65, 4.45, 4.1, 3.9, 3.5, 3.1, 2.7, 2.2];
const fBlue150 = [0, 4.5, 8.5, 11.0, 11.9, 11.3, 9.2, 7.4, 6.1, 5.0, 4.6, 4.4, 4.1, 3.9, 3.5, 3.1, 2.7, 2.2];
const fGreen150 = [0, 4.5, 8.6, 11.1, 12.0, 11.3, 9.0, 7.2, 5.8, 4.8, 4.55, 4.45, 4.15, 3.95, 3.5, 3.05, 2.7, 2.15];
const fBlack150 = [0, 4.0, 5.7, 5.4, 4.9, 4.6, 4.5, 4.45, 4.4, 4.35, 4.3, 4.25, 4.1, 3.9, 3.5, 3.1, 2.7, 2.2];
const fData80 = [null, 9.5, 9.7, 9.3, 8.6, 8.0, 7.5, 7.1, 6.7, 6.3, 6.0, 5.7, 5.4, 5.15, 4.9, 4.7, 4.5, 4.35, 4.2, 4.1, 4.0, 3.9, 3.8, 3.7, 3.6, 3.55, 3.5, 3.4, 3.3, 3.2, 3.1, 3.0, 2.9, 2.8, 2.7, 2.6, 2.45, 2.35, 2.2];
const fRed80 = [0, 2.4, 4.8, 7.0, 8.5, 9.6, 10.0, 9.5, 7.7, 5.6, 5.1, 4.85, 4.6, 4.1, 3.7, 3.3, 2.8, 2.2];
const fBlue80 = [0, 2.5, 5.0, 7.2, 8.8, 9.9, 10.2, 9.5, 7.5, 5.4, 5.0, 4.8, 4.6, 4.1, 3.7, 3.3, 2.8, 2.2];
const fGreen80 = [0, 2.5, 5.1, 7.3, 8.9, 10.0, 10.3, 9.4, 7.3, 5.2, 4.9, 4.8, 4.65, 4.15, 3.7, 3.25, 2.75, 2.15];
const fBlack80 = [0, 2.4, 4.5, 6.0, 6.6, 6.6, 6.2, 5.7, 5.3, 5.0, 4.9, 4.8, 4.6, 4.1, 3.7, 3.3, 2.8, 2.2];
const fData50 = [null, 6.6, 7.5, 7.9, 8.0, 7.8, 7.3, 6.8, 6.3, 5.9, 5.6, 5.35, 5.1, 4.95, 4.8, 4.7, 4.6, 4.5, 4.4, 4.3, 4.2, 4.1, 4.0, 3.9, 3.8, 3.7, 3.6, 3.5, 3.4, 3.3, 3.2, 3.1, 3.0, 2.95, 2.85, 2.75, 2.65, 2.6, 2.5];
const fRed50 = [0, 1.6, 3.2, 4.5, 5.6, 6.7, 7.6, 8.3, 8.5, 7.5, 5.6, 4.9, 4.5, 4.3, 3.8, 3.4, 2.9, 2.5];
const fBlue50 = [0, 1.7, 3.3, 4.7, 5.8, 6.9, 7.8, 8.5, 8.7, 7.5, 5.3, 4.7, 4.5, 4.3, 3.8, 3.4, 2.9, 2.5];
const fGreen50 = [0, 1.7, 3.3, 4.7, 5.9, 7.0, 7.9, 8.6, 8.8, 7.3, 4.9, 4.5, 4.6, 4.4, 3.8, 3.35, 2.85, 2.45];
const fBlack50 = [0, 1.7, 3.2, 4.4, 5.3, 6.1, 6.5, 6.6, 6.5, 6.0, 5.4, 4.9, 4.5, 4.3, 3.8, 3.4, 2.9, 2.5];
const fData40 = [null, 6.6, 7.7, 8.5, 8.9, 8.9, 8.5, 7.8, 7.0, 6.4, 5.9, 5.6, 5.3, 5.1, 4.9, 4.75, 4.6, 4.5, 4.4, 4.3, 4.2, 4.1, 4.0, 3.9, 3.8, 3.7, 3.6, 3.5, 3.4, 3.3, 3.2, 3.1, 3.0, 2.9, 2.8, 2.7, 2.6, 2.5, 2.4];
const fRed40 = [0, 1.5, 3.0, 4.3, 5.5, 6.7, 7.7, 8.6, 9.1, 8.6, 6.1, 5.1, 4.6, 4.4, 3.9, 3.4, 2.9, 2.4];
const fBlue40 = [0, 1.6, 3.1, 4.5, 5.7, 6.9, 7.9, 8.8, 9.3, 8.6, 5.8, 4.9, 4.6, 4.4, 3.9, 3.4, 2.9, 2.4];
const fGreen40 = [0, 1.6, 3.1, 4.5, 5.8, 7.0, 8.0, 8.9, 9.4, 8.4, 5.4, 4.6, 4.7, 4.5, 3.9, 3.35, 2.85, 2.35];
const fBlack40 = [0, 1.6, 3.0, 4.2, 5.1, 6.0, 6.6, 7.0, 7.1, 6.6, 5.7, 5.0, 4.5, 4.4, 3.9, 3.4, 2.9, 2.4];
const fData20 = [null, 3.3, 4.0, 4.7, 5.3, 5.8, 6.2, 6.5, 6.7, 6.8, 6.85, 6.85, 6.8, 6.7, 6.5, 6.3, 6.05, 5.8, 5.5, 5.2, 4.9, 4.6, 4.3, 4.0, 3.75, 3.5, 3.3, 3.1, 2.95, 2.8, 2.65, 2.55, 2.45, 2.35, 2.3, 2.2, 2.15, 2.1, 2.05];
const fRed20 = [0, 0.6, 1.2, 1.7, 2.3, 3.1, 3.7, 4.5, 5.2, 6.1, 6.5, 6.6, 6.4, 5.5, 4.4, 3.3, 2.6, 2.2];
const fBlue20 = [0, 0.6, 1.2, 1.8, 2.4, 3.2, 3.9, 4.7, 5.4, 6.3, 6.8, 6.9, 6.5, 5.4, 4.1, 3.0, 2.4, 2.0];
const fGreen20 = [0, 0.6, 1.2, 1.8, 2.4, 3.2, 3.9, 4.7, 5.5, 6.4, 6.9, 7.0, 6.6, 5.3, 3.9, 2.8, 2.3, 2.0];
const fBlack20 = [0, 0.6, 1.2, 1.7, 2.3, 3.0, 3.6, 4.3, 5.0, 5.8, 6.2, 6.3, 6.1, 5.3, 4.2, 3.1, 2.5, 2.1];
const fData13 = [null, null, 1.8, 2.2, 2.6, 3.0, 3.45, 3.85, 4.25, 4.6, 4.95, 5.3, 5.6, 5.8, 5.95, 6.0, 6.05, 6.05, 6.0, 5.9, 5.75, 5.55, 5.3, 5.05, 4.8, 4.5, 4.25, 3.95, 3.7, 3.45, 3.2, 3.0, 2.75, 2.55, 2.35, 2.15, 2.0, 1.8, 1.65];
const fRed13 = [0, 0.25, 0.5, 0.75, 1.0, 1.35, 1.7, 2.1, 2.5, 3.3, 4.0, 4.8, 5.8, 5.9, 5.1, 3.9, 2.8, 1.8];
const fBlue13 = [0, 0.25, 0.5, 0.8, 1.05, 1.4, 1.8, 2.2, 2.6, 3.4, 4.2, 5.0, 6.0, 6.0, 5.0, 3.7, 2.6, 1.6];
const fGreen13 = [0, 0.25, 0.5, 0.8, 1.05, 1.4, 1.8, 2.2, 2.6, 3.4, 4.3, 5.1, 6.1, 6.1, 5.0, 3.6, 2.5, 1.5];
const fBlack13 = [0, 0.25, 0.5, 0.75, 1.0, 1.35, 1.7, 2.1, 2.5, 3.3, 4.1, 4.9, 5.9, 5.9, 5.0, 3.7, 2.6, 1.6];

// [data, red, blue, green, black] per sample, top (150K) to bottom (13K)
const panelCurves = [
  [[aData150, aRed150, aBlue150, aGreen150, aBlack150], [aData80, aRed80, aBlue80, aGreen80, aBlack80],
   [aData50, aRed50, aBlue50, aGreen50, aBlack50], [aData40, aRed40, aBlue40, aGreen40, aBlack40],
   [aData20, aRed20, aBlue20, aGreen20, aBlack20], [aData13, aRed13, aBlue13, aGreen13, aBlack13]],
  [[bData150, bRed150, bBlue150, bGreen150, bBlack150], [bData80, bRed80, bBlue80, bGreen80, bBlack80],
   [bData50, bRed50, bBlue50, bGreen50, bBlack50], [bData40, bRed40, bBlue40, bGreen40, bBlack40],
   [bData20, bRed20, bBlue20, bGreen20, bBlack20], [bData13, bRed13, bBlue13, bGreen13, bBlack13]],
  [[cData150, cRed150, cBlue150, cGreen150, cBlack150], [cData80, cRed80, cBlue80, cGreen80, cBlack80],
   [cData50, cRed50, cBlue50, cGreen50, cBlack50], [cData40, cRed40, cBlue40, cGreen40, cBlack40],
   [cData20, cRed20, cBlue20, cGreen20, cBlack20], [cData13, cRed13, cBlue13, cGreen13, cBlack13]],
  [[dData150, dRed150, dBlue150, dGreen150, dBlack150], [dData80, dRed80, dBlue80, dGreen80, dBlack80],
   [dData50, dRed50, dBlue50, dGreen50, dBlack50], [dData40, dRed40, dBlue40, dGreen40, dBlack40],
   [dData20, dRed20, dBlue20, dGreen20, dBlack20], [dData13, dRed13, dBlue13, dGreen13, dBlack13]],
  [null, [eData80, eRed80, eBlue80, eGreen80, eBlack80],
   [eData50, eRed50, eBlue50, eGreen50, eBlack50], [eData40, eRed40, eBlue40, eGreen40, eBlack40],
   [eData20, eRed20, eBlue20, eGreen20, eBlack20], [eData13, eRed13, eBlue13, eGreen13, eBlack13]],
  [[fData150, fRed150, fBlue150, fGreen150, fBlack150], [fData80, fRed80, fBlue80, fGreen80, fBlack80],
   [fData50, fRed50, fBlue50, fGreen50, fBlack50], [fData40, fRed40, fBlue40, fGreen40, fBlack40],
   [fData20, fRed20, fBlue20, fGreen20, fBlack20], [fData13, fRed13, fBlue13, fGreen13, fBlack13]]
];

// layout
const grids = [
  { left: 62, top: 18, width: 307, height: 346 },
  { left: 396, top: 18, width: 307, height: 346 },
  { left: 731, top: 18, width: 307, height: 346 },
  { left: 62, top: 394, width: 307, height: 344 },
  { left: 396, top: 394, width: 307, height: 344 },
  { left: 731, top: 394, width: 307, height: 344 }
];
const labelLevelsTop = [55.9, 46.3, 36.35, 26.4, 17.0, 7.55];
const labelLevelsBottom = [56.8, 47.3, 37.4, 26.7, 17.9, 7.3];

const lineStyles = [
  null,
  { color: '#ff0000', width: 2.8 },
  { color: '#0000ff', width: 1.5 },
  { color: '#008c00', width: 1.6, type: [6, 3] },
  { color: '#000000', width: 1.1, type: [6, 2, 1.5, 2] }
];

const richBase = {
  i: { fontFamily: FONT, fontStyle: 'italic', fontSize: 17, lineHeight: 22, fill: INK, color: INK }
};

const series = [];
const graphic = [];

panelCurves.forEach((curves, p) => {
  const g = grids[p];
  const levels = p < 3 ? labelLevelsTop : labelLevelsBottom;
  curves.forEach((set, c) => {
    if (!set) return;
    const shift = shifts[c];
    const pts = [];
    qData.forEach((q, i) => { if (set[0][i] != null) pts.push([q, set[0][i] + shift]); });
    series.push({
      type: 'scatter', xAxisIndex: p, yAxisIndex: p, data: pts,
      symbol: 'circle', symbolSize: 6.5, z: 2, silent: true,
      itemStyle: { color: '#ffffff', borderColor: '#555555', borderWidth: 1 }
    });
    for (let k = 1; k <= 4; k++) {
      series.push({
        type: 'line', xAxisIndex: p, yAxisIndex: p, showSymbol: false, smooth: 0.3, z: 2 + k, silent: true,
        data: qFit.map((q, i) => [q, set[k][i] + shift]),
        lineStyle: lineStyles[k]
      });
    }
    const aVal = p === 4 ? aTextE[c] : aText[c];
    graphic.push({
      type: 'text',
      x: g.left + (c === 0 ? 151 : 157),
      y: g.top + (70 - levels[c]) / 70 * g.height,
      silent: true,
      style: {
        text: samples[c] + ' ({i|A} = ' + aVal + ')',
        fontFamily: FONT, fontSize: 17, fill: INK,
        align: 'left', verticalAlign: 'middle', lineHeight: 22,
        rich: richBase
      }
    });
  });
  graphic.push({
    type: 'text', x: g.left + 15, y: g.top + 21, silent: true,
    style: { text: panelTitles[p], fontFamily: FONT, fontSize: 19, fill: INK, align: 'left', verticalAlign: 'middle' }
  });
});

const richAxis = {
  i: { fontFamily: FONT, fontStyle: 'italic', fontSize: 19, lineHeight: 26, fill: INK },
  sup: { fontFamily: FONT, fontSize: 12, lineHeight: 12, verticalAlign: 'top', fill: INK },
  sub: { fontFamily: FONT, fontSize: 12, lineHeight: 12, verticalAlign: 'bottom', fill: INK }
};
graphic.push({
  type: 'text', x: 22, y: 370, rotation: Math.PI / 2, silent: true,
  style: {
    text: '{i|M}{sub|w} {i|q} {i|P}({i|q}) (10{sup|3} g mol{sup|−1} nm{sup|−1}) + {i|A}',
    fontFamily: FONT, fontSize: 19, lineHeight: 26, fill: INK, align: 'center', verticalAlign: 'middle', rich: richAxis
  }
});
graphic.push({
  type: 'text', x: 548, y: 775, silent: true,
  style: {
    text: '{i|q} (nm{sup|−1})',
    fontFamily: FONT, fontSize: 19, lineHeight: 26, fill: INK, align: 'center', verticalAlign: 'middle', rich: richAxis
  }
});

const axisText = { color: INK, fontFamily: FONT, fontSize: 17 };
const option = {
  animation: false,
  backgroundColor: '#ffffff',
  grid: grids.map(g => Object.assign({ show: true, borderColor: '#333', borderWidth: 1, outerBoundsMode: 'none', containLabel: false }, g)),
  xAxis: grids.map((g, i) => ({
    gridIndex: i, type: 'value', min: 0, max: 2, interval: 0.5,
    axisLine: { show: true, onZero: false, lineStyle: { color: '#333', width: 1 } },
    axisTick: { show: true, inside: true, length: 7, lineStyle: { color: '#333' } },
    axisLabel: Object.assign({ margin: 6, showMinLabel: true, showMaxLabel: true,
      formatter: v => (Math.abs(v - Math.round(v)) < 1e-9 ? String(Math.round(v)) : '') }, axisText),
    splitLine: { show: false }
  })),
  yAxis: grids.map((g, i) => ({
    gridIndex: i, type: 'value', min: 0, max: 70, interval: 10,
    axisLine: { show: true, onZero: false, lineStyle: { color: '#333', width: 1 } },
    axisTick: { show: true, inside: true, length: 7, lineStyle: { color: '#333' } },
    axisLabel: Object.assign({ margin: 5, showMinLabel: true, showMaxLabel: true }, axisText),
    splitLine: { show: false }
  })),
  series: series,
  graphic: graphic
};

const chart = echarts.init(document.getElementById('chart'), null, { renderer: 'canvas' });
chart.setOption(option);
</script>
</body>
</html>
